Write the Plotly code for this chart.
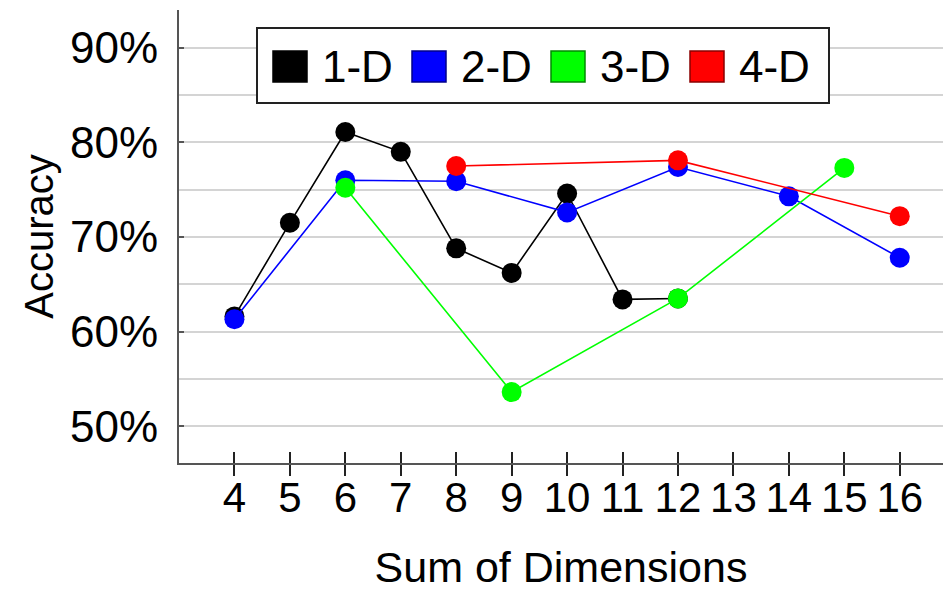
import plotly.graph_objects as go

x_1d = [4, 5, 6, 7, 8, 9, 10, 11, 12]
y_1d = [61.6, 71.5, 81.1, 79.0, 68.8, 66.2, 74.6, 63.4, 63.5]

x_2d = [4, 6, 8, 10, 12, 14, 16]
y_2d = [61.3, 76.0, 75.9, 72.6, 77.4, 74.3, 67.8]

x_3d = [6, 9, 12, 15]
y_3d = [75.2, 53.6, 63.5, 77.3]

x_4d = [8, 12, 16]
y_4d = [77.5, 78.1, 72.2]

x_ticks = [4, 5, 6, 7, 8, 9, 10, 11, 12, 13, 14, 15, 16]
y_ticks = [50, 60, 70, 80, 90]
y_tick_text = ["50%", "60%", "70%", "80%", "90%"]

series_names = ["1-D", "2-D", "3-D", "4-D"]
series_colors = ["#000000", "#0000ff", "#00ff00", "#ff0000"]
series_edge = ["#000000", "#00008a", "#008a00", "#8a0000"]
series_x = [x_1d, x_2d, x_3d, x_4d]
series_y = [y_1d, y_2d, y_3d, y_4d]

FONT = "Liberation Sans"
W, H = 943, 591
ML, MR, MT, MB = 179, 0, 10, 128
PW, PH = W - ML - MR, H - MT - MB

fig = go.Figure()
for name, xs, ys, col in zip(series_names, series_x, series_y, series_colors):
    fig.add_trace(go.Scatter(
        x=xs, y=ys, mode="lines+markers", name=name, showlegend=False,
        line=dict(color=col, width=1.6),
        marker=dict(color=col, size=20),
    ))
# invisible trace on second axis for crossing ticks
fig.add_trace(go.Scatter(x=[None], y=[None], xaxis="x2", showlegend=False))


def px_x(p):
    return (p - ML) / PW


def px_y(p):
    return (H - MB - p) / PH


# Legend drawn as a framed box with square keys
shapes = [dict(type="rect", xref="paper", yref="paper",
               x0=px_x(257), x1=px_x(829), y0=px_y(103), y1=px_y(28),
               line=dict(color="#222", width=2), fillcolor="white", layer="above")]
annotations = []
item_x0 = [273, 412, 551, 690]
for i, name in enumerate(series_names):
    sx = item_x0[i]
    shapes.append(dict(type="rect", xref="paper", yref="paper",
                       x0=px_x(sx), x1=px_x(sx + 34), y0=px_y(82), y1=px_y(51),
                       line=dict(color=series_edge[i], width=1.5),
                       fillcolor=series_colors[i], layer="above"))
    annotations.append(dict(xref="paper", yref="paper", x=px_x(sx + 47), y=px_y(67),
                            xanchor="left", yanchor="middle", text=name, showarrow=False,
                            font=dict(size=44, family=FONT, color="black")))

xr = [3, 16.78]
fig.update_layout(
    width=W, height=H,
    margin=dict(l=ML, r=MR, t=MT, b=MB),
    paper_bgcolor="white", plot_bgcolor="white",
    font=dict(family=FONT, size=40, color="black"),
    showlegend=False,
    shapes=shapes, annotations=annotations,
    xaxis=dict(
        range=xr, tickmode="array", tickvals=x_ticks,
        ticks="outside", ticklen=11, tickwidth=2, tickcolor="#222",
        showline=True, linecolor="#555", linewidth=2,
        showgrid=False, zeroline=False, automargin=False,
        ticklabelstandoff=-14,
        title=dict(text="Sum of Dimensions", font=dict(size=43), standoff=42),
        tickfont=dict(size=42),
    ),
    xaxis2=dict(
        range=xr, overlaying="x", tickmode="array", tickvals=x_ticks,
        ticks="inside", ticklen=11, tickwidth=2, tickcolor="#222",
        showticklabels=False, showgrid=False, zeroline=False, showline=False,
        anchor="y", automargin=False,
    ),
    yaxis=dict(
        range=[46.1, 94], tickmode="array", tickvals=y_ticks, ticktext=y_tick_text,
        ticks="inside", ticklen=5, tickwidth=1.5, tickcolor="#555",
        showline=True, linecolor="#555", linewidth=2,
        showgrid=True, gridcolor="#d4d4d4", gridwidth=2,
        minor=dict(dtick=5, tick0=0, showgrid=True, gridcolor="#d4d4d4", gridwidth=2),
        zeroline=False, automargin=False,
        ticklabelstandoff=10,
        title=dict(text="Accuracy", font=dict(size=40), standoff=4),
        tickfont=dict(size=44),
    ),
)
fig.write_html("out.html", config={"displayModeBar": False},
               post_script="document.body.style.margin='0px';")
